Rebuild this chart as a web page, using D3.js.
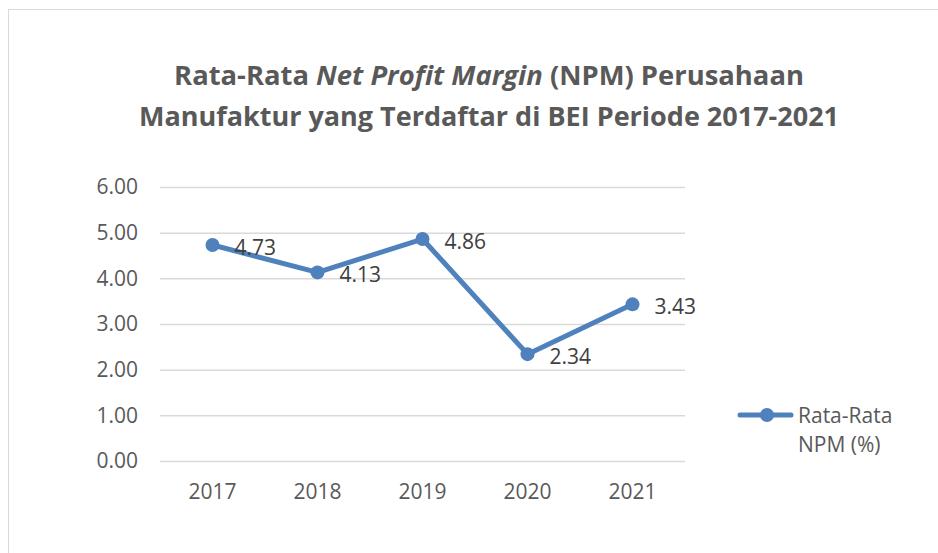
<!DOCTYPE html>
<html>
<head>
<meta charset="utf-8">
<script src="https://cdn.jsdelivr.net/npm/d3@7"></script>
<style>
  body { margin: 0; background: #fff; }
  svg { display: block; font-family: "Open Sans", sans-serif; }
</style>
</head>
<body>
<div id="chart"></div>
<script>
// NPM line chart, 2017-2021
const years = ["2017", "2018", "2019", "2020", "2021"];
const npm = [4.73, 4.13, 4.86, 2.34, 3.43];
const yTicks = [0, 1, 2, 3, 4, 5, 6];
const seriesName = ["Rata-Rata", "NPM (%)"];

const width = 938, height = 553;
const blue = "#4f81bd", grey = "#595959";

const x = d3.scaleBand().domain(years).range([160, 685]);
const y = d3.scaleLinear().domain([0, 6]).range([461, 187]);

const svg = d3.select("#chart")
  .append("svg")
  .attr("width", width)
  .attr("height", height);

// outer frame (goes off the right/bottom edge)
svg.append("rect")
  .attr("x", 8.5).attr("y", 9.5)
  .attr("width", 1000).attr("height", 1000)
  .attr("fill", "#fff")
  .attr("stroke", "#d9d9d9")
  .attr("stroke-width", 1);

// title
const title = svg.append("text")
  .attr("text-anchor", "middle")
  .attr("fill", grey)
  .attr("font-weight", "bold")
  .attr("font-size", 27.4);
const l1 = title.append("tspan").attr("x", 489).attr("y", 85);
l1.append("tspan").text("Rata-Rata ");
l1.append("tspan").attr("font-style", "italic").text("Net Profit Margin");
l1.append("tspan").text(" (NPM) Perusahaan");
title.append("tspan").attr("x", 489).attr("y", 126)
  .attr("font-size", 27)
  .text("Manufaktur yang Terdaftar di BEI Periode 2017-2021");

// gridlines + y labels
const yAxis = d3.axisLeft(y)
  .tickValues(yTicks)
  .tickSize(-(685 - 160))
  .tickPadding(22)
  .tickFormat(d3.format(".2f"));

svg.append("g")
  .attr("transform", "translate(160,0)")
  .call(yAxis)
  .call(g => g.select(".domain").remove())
  .call(g => g.selectAll(".tick line").attr("stroke", "#d9d9d9").attr("stroke-width", 1.5))
  .call(g => g.selectAll(".tick text")
    .attr("fill", grey)
    .attr("font-size", 21)
    .attr("font-family", "Open Sans, sans-serif"));

// x labels
svg.append("g")
  .attr("transform", "translate(0,461)")
  .call(d3.axisBottom(x).tickSize(0).tickPadding(23))
  .call(g => g.select(".domain").remove())
  .call(g => g.selectAll(".tick text")
    .attr("fill", grey)
    .attr("font-size", 21)
    .attr("font-family", "Open Sans, sans-serif"));

const pts = years.map((yr, i) => ({ yr, v: npm[i] }));
const cx = d => x(d.yr) + x.bandwidth() / 2;

svg.append("path")
  .datum(pts)
  .attr("fill", "none")
  .attr("stroke", blue)
  .attr("stroke-width", 5)
  .attr("stroke-linejoin", "round")
  .attr("stroke-linecap", "round")
  .attr("d", d3.line().x(cx).y(d => y(d.v)));

svg.append("g")
  .selectAll("circle")
  .data(pts)
  .join("circle")
  .attr("cx", cx)
  .attr("cy", d => y(d.v))
  .attr("r", 7)
  .attr("fill", blue);

// data labels, right of the point
svg.append("g")
  .selectAll("text")
  .data(pts)
  .join("text")
  .attr("x", d => cx(d) + 22)
  .attr("y", d => y(d.v) + 10)
  .attr("fill", "#404040")
  .attr("font-size", 21)
  .text(d => d.v.toFixed(2));

// legend
const lg = svg.append("g");
lg.append("line")
  .attr("x1", 740).attr("x2", 791)
  .attr("y1", 415).attr("y2", 415)
  .attr("stroke", blue).attr("stroke-width", 5)
  .attr("stroke-linecap", "round");
lg.append("circle")
  .attr("cx", 767).attr("cy", 415).attr("r", 7)
  .attr("fill", blue);
lg.append("text")
  .attr("fill", grey)
  .attr("font-size", 21)
  .selectAll("tspan")
  .data(seriesName)
  .join("tspan")
  .attr("x", 798)
  .attr("y", (d, i) => 423 + i * 29)
  .text(d => d);
</script>
</body>
</html>
